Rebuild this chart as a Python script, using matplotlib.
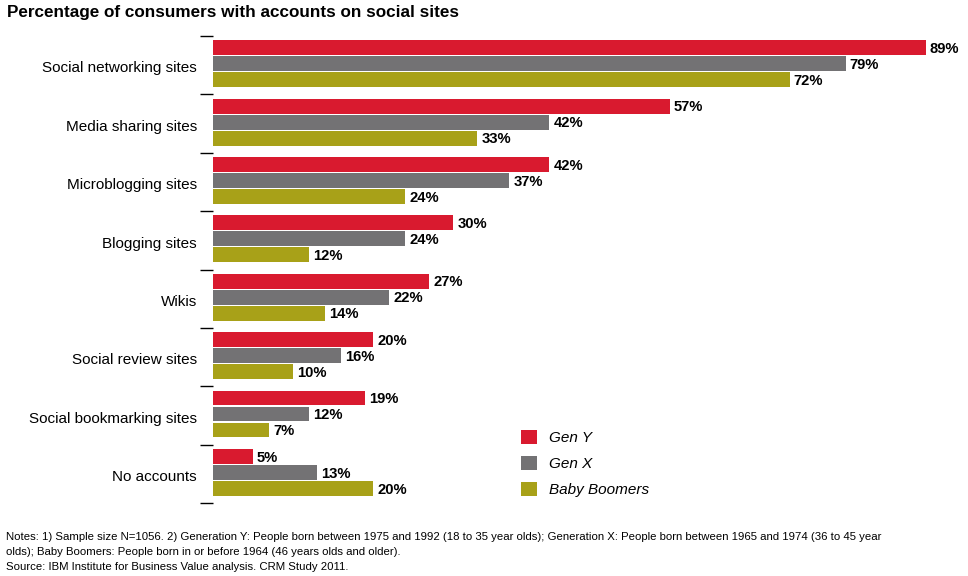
import matplotlib
matplotlib.use("Agg")
import matplotlib.pyplot as plt
import numpy as np
from matplotlib.patches import Patch

categories = [
    "Social networking sites",
    "Media sharing sites",
    "Microblogging sites",
    "Blogging sites",
    "Wikis",
    "Social review sites",
    "Social bookmarking sites",
    "No accounts",
]
series_names = ["Gen Y", "Gen X", "Baby Boomers"]
gen_y = [89, 57, 42, 30, 27, 20, 19, 5]
gen_x = [79, 42, 37, 24, 22, 16, 12, 13]
boomers = [72, 33, 24, 12, 14, 10, 7, 20]

colors = ["#D91A2F", "#737274", "#A8A118"]
title = "Percentage of consumers with accounts on social sites"
notes = (
    "Notes: 1) Sample size N=1056. 2) Generation Y: People born between 1975 and 1992 (18 to 35 year olds); "
    "Generation X: People born between 1965 and 1974 (36 to 45 year\n"
    "olds); Baby Boomers: People born in or before 1964 (46 years olds and older).\n"
    "Source: IBM Institute for Business Value analysis. CRM Study 2011."
)

plt.rcParams["font.family"] = ["Liberation Sans", "DejaVu Sans"]

W, H = 968, 576
fig = plt.figure(figsize=(W / 100, H / 100), dpi=100)
ax = fig.add_axes([213 / W, 1 - 503 / H, 753 / W, 467 / H])

n = len(categories)
y = np.arange(n)
step = 0.274
height = 0.256
for k, (vals, c) in enumerate(zip([gen_y, gen_x, boomers], colors)):
    pos = y + 0.475 + (k - 1) * step
    bars = ax.barh(pos, vals, height=height, color=c, label=series_names[k])
    for b, v in zip(bars, vals):
        ax.text(b.get_width() + 0.5, b.get_y() + b.get_height() / 2 + 0.02, f"{v}%",
                va="center", ha="left", fontsize=10.6, fontweight="bold")

ax.set_xlim(0, 94)
ax.set_ylim(n, 0)

# group separators as outward ticks, category names as minor tick labels
ax.set_yticks(np.arange(n + 1))
ax.set_yticklabels([])
ax.tick_params(axis="y", which="major", length=9.4, width=1, direction="out", color="black")
ax.set_yticks(y + 0.53, minor=True)
ax.set_yticklabels(categories, minor=True, fontsize=11)
ax.tick_params(axis="y", which="minor", length=0, pad=11.5)
ax.set_xticks([])
for s in ax.spines.values():
    s.set_visible(False)

handles = [Patch(facecolor=c, edgecolor="none") for c in colors]
fig.legend(handles, series_names, loc="upper left", bbox_to_anchor=(507 / W, 1 - 416 / H),
           frameon=False, prop={"style": "italic", "size": 11},
           handlelength=1.05, handleheight=1.05, handletextpad=0.8, labelspacing=0.7)

fig.text(7 / W, 1 - 12 / H, title, fontsize=12.3, fontweight="bold", va="center", ha="left")
fig.text(6 / W, 1 - 532 / H, notes, fontsize=8.2, va="top", ha="left", linespacing=1.6)

fig.savefig("out.png", dpi=100)
